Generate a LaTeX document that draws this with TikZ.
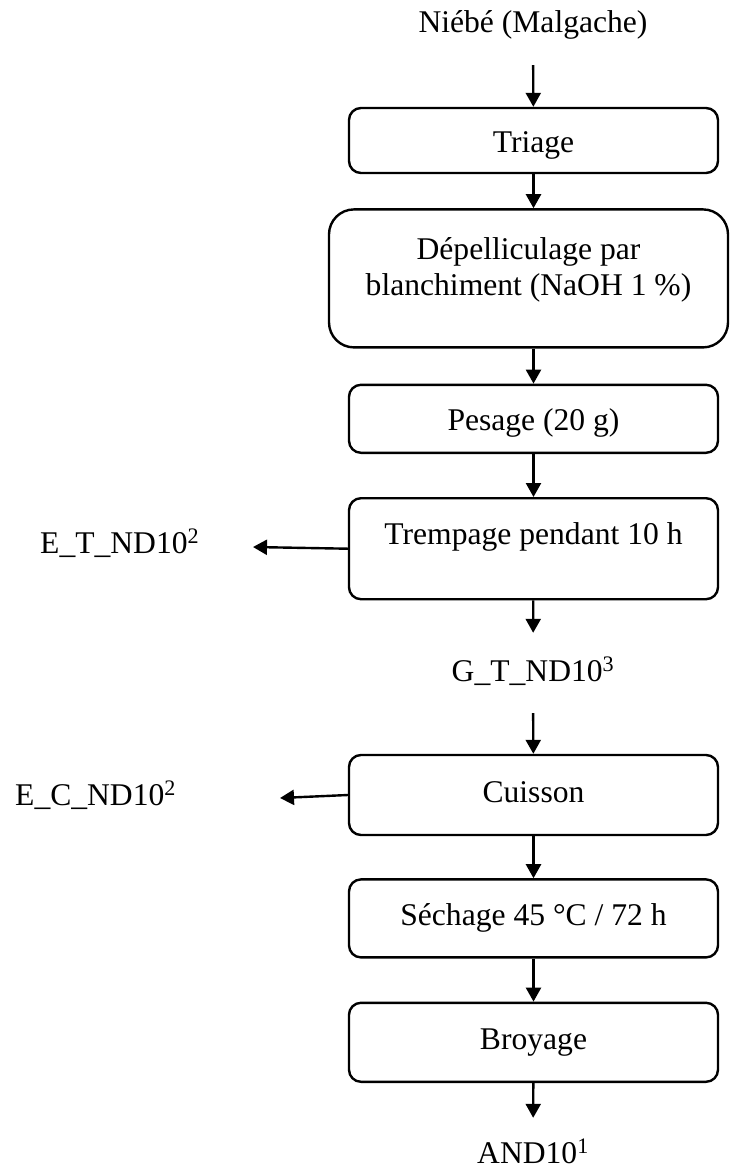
\documentclass[tikz,border=0pt]{standalone}
\usepackage{fontspec}
\setmainfont{Liberation Serif}
\usetikzlibrary{arrows.meta,positioning}

\tikzset{
    stepbox/.style={
        draw,
        line width=2.4pt,
        rounded corners=12pt,
        minimum width=369pt,
        minimum height=65pt,
        inner sep=0pt,
        align=center,
        text height=22pt,
        text depth=7pt
    },
    flowtext/.style={inner sep=0pt, text height=22pt, text depth=7pt},
    flow/.style={line width=2.4pt, -{Triangle[length=14pt,width=15pt]}}
}

\begin{document}
\begin{tikzpicture}[x=1pt, y=-1pt, font=\fontsize{31.6}{36}\selectfont]
    \useasboundingbox (0,0) rectangle (729,1171);
    % chaine principale
    \node[flowtext, anchor=base] (niebe) at (533,32) {Niébé (Malgache)};
    \node[stepbox, text height=28pt, text depth=4pt] (triage) at (533.5,140.5) {Triage};
    \node[stepbox, below=34pt of triage, xshift=-5pt, minimum width=399pt, minimum height=138pt, rounded corners=25pt, text height=58pt, text depth=24pt] (depel) {Dépelliculage par\\blanchiment (NaOH 1~\%)};
    \node[stepbox, below=35pt of depel, xshift=5pt, minimum height=68pt, text height=28pt, text depth=4pt] (pesage) {Pesage (20 g)};
    \node[stepbox, below=43pt of pesage, minimum height=101pt, text depth=31pt] (tremp) {Trempage pendant 10 h};
    \node[flowtext, anchor=base] (gt) at (533,681) {G\_T\_ND10\textsuperscript{3}};
    \node[stepbox, minimum height=80pt] (cuis) at (533.5,795) {Cuisson};
    \node[stepbox, below=42pt of cuis, minimum height=78pt] (sech) {Séchage 45 °C / 72 h};
    \node[stepbox, below=43pt of sech, minimum height=79pt] (broy) {Broyage};
    \node[flowtext, anchor=base] (and) at (533,1163) {AND10\textsuperscript{1}};
    % sorties laterales
    \node[flowtext, anchor=base west] (et) at (40,553) {E\_T\_ND10\textsuperscript{2}};
    \node[flowtext, anchor=base west] (ec) at (15,805) {E\_C\_ND10\textsuperscript{2}};
    \coordinate (etend) at (253,547);
    \coordinate (ecend) at (280,798);

    \draw[flow, shorten <=26pt] (niebe) -- (triage);
    \draw[flow] (triage) -- (triage |- depel.north);
    \draw[flow] (depel.south -| pesage) -- (pesage);
    \draw[flow] (pesage) -- (tremp);
    \draw[flow, shorten >=26pt] (tremp) -- (gt);
    \draw[flow, shorten <=25pt] (gt) -- (cuis);
    \draw[flow] (cuis) -- (sech);
    \draw[flow] (sech) -- (broy);
    \draw[flow, shorten >=23pt] (broy) -- (and);
    \draw[flow] (tremp.west) -- (etend);
    \draw[flow] (cuis.west) -- (ecend);
\end{tikzpicture}
\end{document}
